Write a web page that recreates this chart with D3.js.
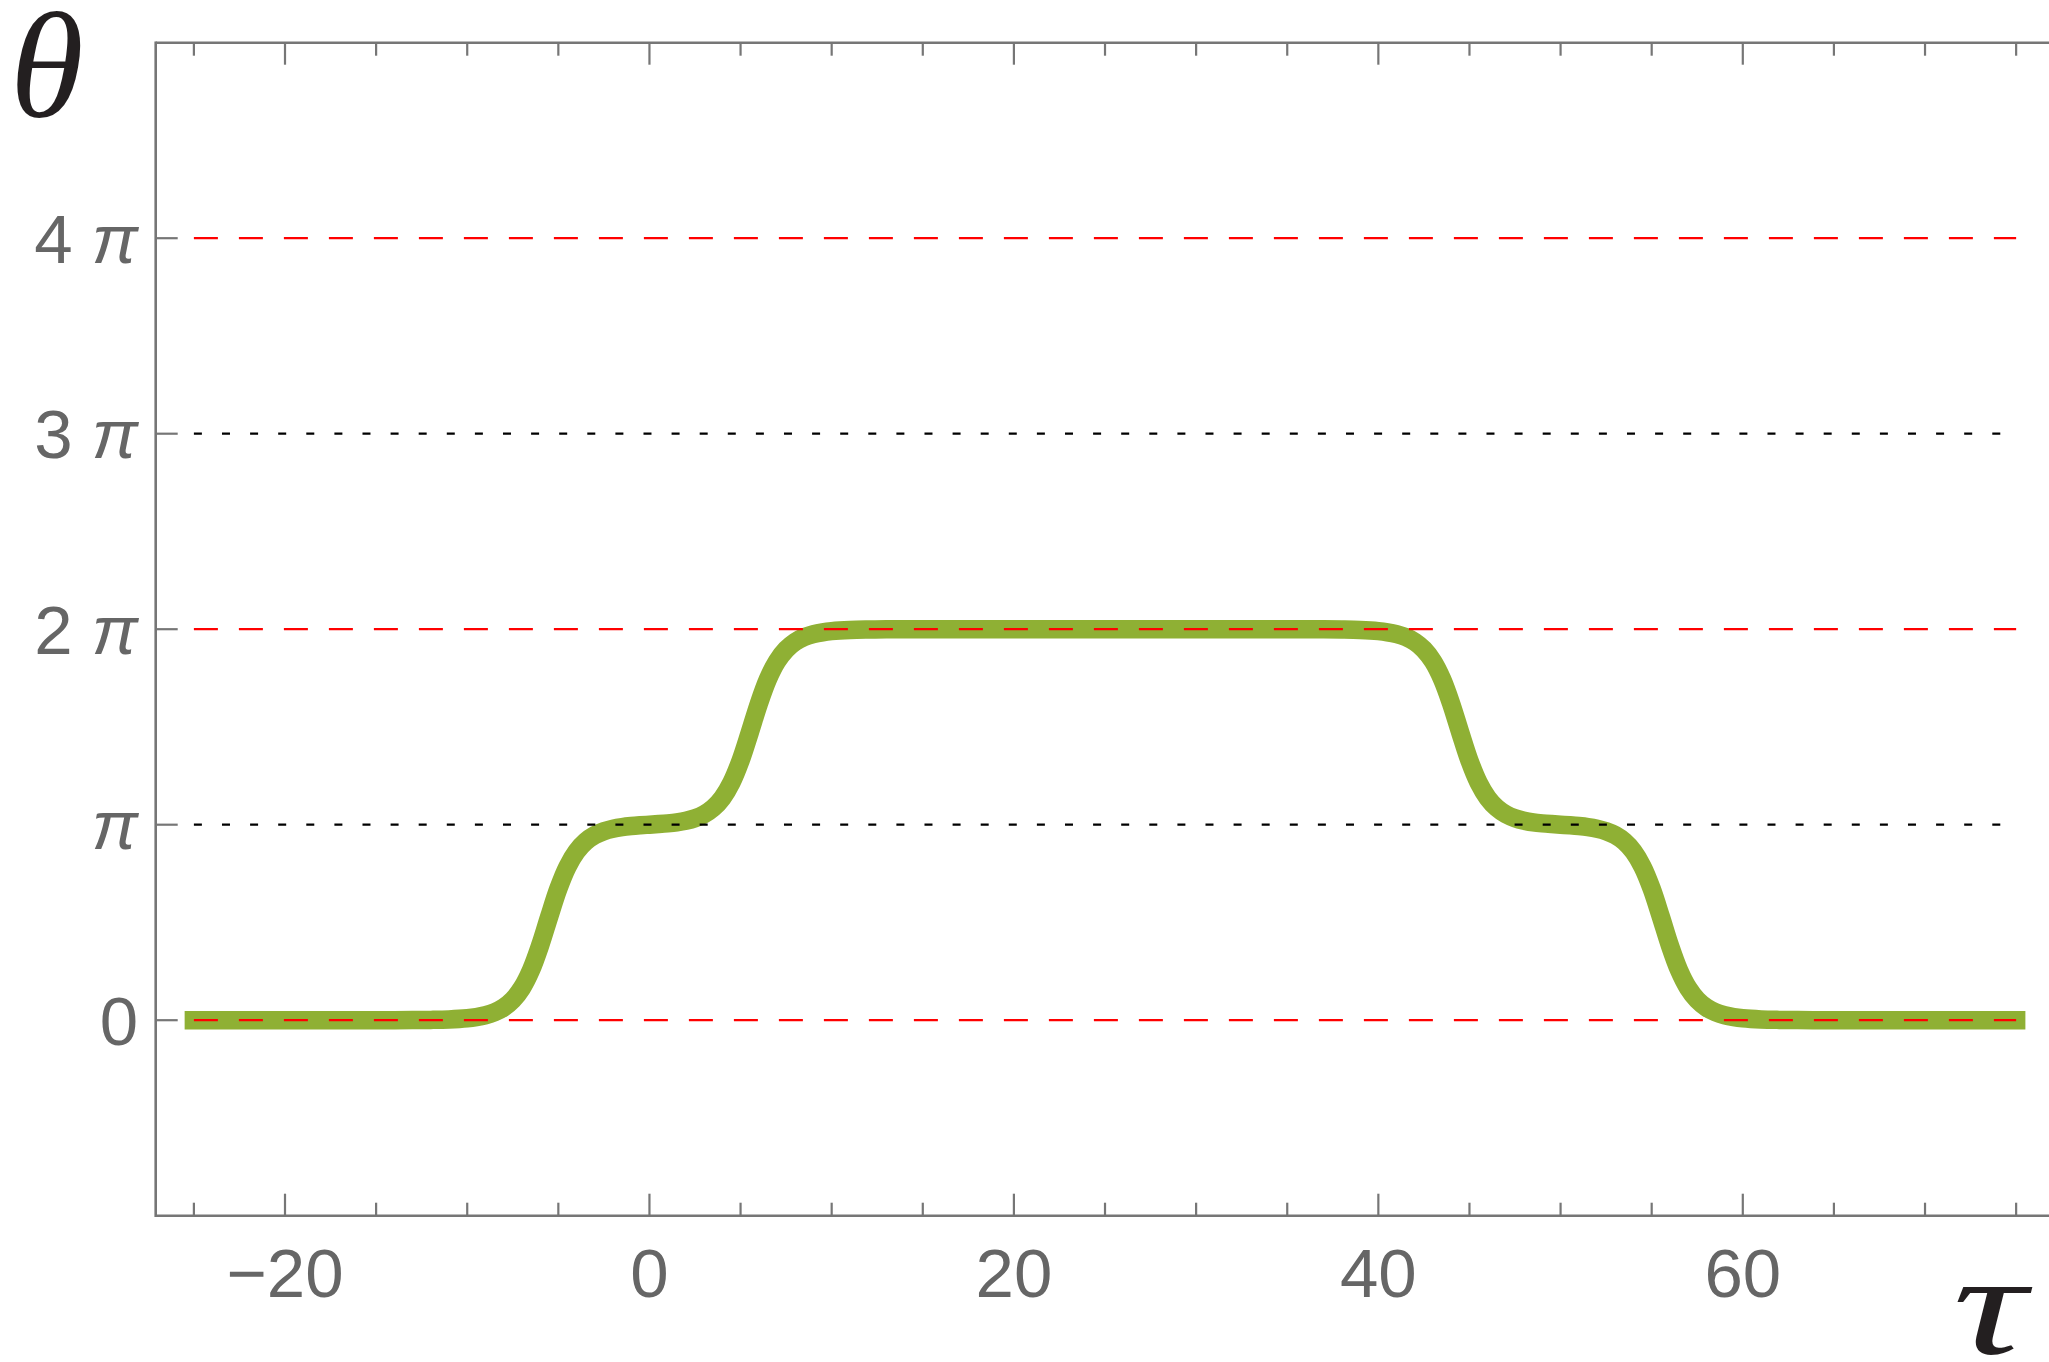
<!DOCTYPE html>
<html>
<head>
<meta charset="utf-8">
<script src="https://cdn.jsdelivr.net/npm/d3@7/dist/d3.min.js"></script>
<style>
  html, body { margin: 0; padding: 0; background: #fff; }
  svg { display: block; }
</style>
</head>
<body>
<svg id="chart" width="2049" height="1362"></svg>
<script>
// Sampled phase profile θ(τ), θ given in multiples of π
const tau = [
  -25, -20, -15, -14, -13, -12, -11, -10,
  -9.5, -9, -8.5, -8, -7.5, -7, -6.5, -6, -5.5, -5, -4.5, -4, -3.5, -3, -2.5, -2, -1.5, -1, -0.5,
  0, 0.5, 1, 1.5, 2, 2.5, 3, 3.5, 4, 4.5, 5, 5.5, 6, 6.5, 7, 7.5, 8, 8.5, 9, 9.5,
  10, 11, 12, 13, 14, 15, 20, 25, 30, 35, 36, 37, 38, 39,
  40, 40.5, 41, 41.5, 42, 42.5, 43, 43.5, 44, 44.5, 45, 45.5, 46, 46.5, 47, 47.5, 48, 48.5, 49, 49.5,
  50, 50.5, 51, 51.5, 52, 52.5, 53, 53.5, 54, 54.5, 55, 55.5, 56, 56.5, 57, 57.5, 58, 58.5, 59, 59.5,
  60, 61, 62, 63, 64, 65, 70, 75
];
const thetaOverPi = [
  0, 0, 0, 0.0002, 0.0006, 0.0015, 0.0038, 0.0097,
  0.0157, 0.0252, 0.0404, 0.0649, 0.1038, 0.1646, 0.2561, 0.382, 0.53, 0.6723, 0.7847, 0.863, 0.914, 0.9465, 0.9668, 0.9796, 0.9878, 0.9931, 0.9969,
  1, 1.0031, 1.0069, 1.0122, 1.0204, 1.0332, 1.0535, 1.086, 1.137, 1.2153, 1.3277, 1.47, 1.618, 1.7439, 1.8354, 1.8962, 1.9351, 1.9596, 1.9748, 1.9843,
  1.9903, 1.9962, 1.9985, 1.9994, 1.9998, 2, 2, 2, 2, 2, 1.9998, 1.9994, 1.9985, 1.9962,
  1.9903, 1.9843, 1.9748, 1.9596, 1.9351, 1.8962, 1.8354, 1.7439, 1.618, 1.47, 1.3277, 1.2153, 1.137, 1.086, 1.0535, 1.0332, 1.0204, 1.0122, 1.0069, 1.0031,
  1, 0.9969, 0.9931, 0.9878, 0.9796, 0.9668, 0.9465, 0.914, 0.863, 0.7847, 0.6723, 0.53, 0.382, 0.2561, 0.1646, 0.1038, 0.0649, 0.0404, 0.0252, 0.0157,
  0.0097, 0.0038, 0.0015, 0.0006, 0.0002, 0, 0, 0
];

// Reference levels (multiples of π)
const dashedLevels = [0, 2, 4];
const dottedLevels = [1, 3];
const levelSpan = [-25, 75];

// Axis ticks
const xMajorTicks = [-20, 0, 20, 40, 60];
const xMajorLabels = ["\u221220", "0", "20", "40", "60"];
const xMinorTicks = [-25, -15, -10, -5, 5, 10, 15, 25, 30, 35, 45, 50, 55, 65, 70, 75];
const yTicks = [0, 1, 2, 3, 4];
const yTickLabels = [["0", ""], ["", "\u03C0"], ["2 ", "\u03C0"], ["3 ", "\u03C0"], ["4 ", "\u03C0"]];

const frameLeft = 155.7, frameTop = 42.7, frameBottom = 1215.7;
const xMax = 80;

const svg = d3.select("#chart");

const x = d3.scaleLinear().domain([-20, 60]).range([285, 1742.8]);
const y = d3.scaleLinear().domain([-1, 5]).range([frameBottom, frameTop]);

const axisColor = "#767676";
const labelColor = "#666666";

// phase curve
const points = tau.map((t, i) => [t, thetaOverPi[i]]);
const line = d3.line()
  .x(d => x(d[0]))
  .y(d => y(d[1]))
  .curve(d3.curveCatmullRom.alpha(0.5));

svg.append("path")
  .datum(points)
  .attr("d", line)
  .attr("fill", "none")
  .attr("stroke", "#8fb034")
  .attr("stroke-width", 18.5)
  .attr("stroke-linecap", "square")
  .attr("stroke-linejoin", "round");

// reference levels drawn above the curve
svg.selectAll(".lvl-dash").data(dashedLevels).enter().append("line")
  .attr("x1", x(levelSpan[0])).attr("x2", x(levelSpan[1]))
  .attr("y1", d => y(d)).attr("y2", d => y(d))
  .attr("stroke", "#ff0000").attr("stroke-width", 2.2)
  .attr("stroke-dasharray", "24,21");

svg.selectAll(".lvl-dot").data(dottedLevels).enter().append("line")
  .attr("x1", x(levelSpan[0])).attr("x2", x(levelSpan[1]))
  .attr("y1", d => y(d)).attr("y2", d => y(d))
  .attr("stroke", "#000000").attr("stroke-width", 2.3)
  .attr("stroke-dasharray", "8,20.1");

// frame (right edge lies beyond the canvas)
const frame = svg.append("g").attr("stroke", axisColor).attr("fill", "none").attr("stroke-width", 2.6);
frame.append("line").attr("x1", frameLeft).attr("x2", frameLeft).attr("y1", frameTop - 1.3).attr("y2", frameBottom + 1.3);
frame.append("line").attr("x1", frameLeft).attr("x2", x(xMax)).attr("y1", frameTop).attr("y2", frameTop);
frame.append("line").attr("x1", frameLeft).attr("x2", x(xMax)).attr("y1", frameBottom).attr("y2", frameBottom);

// ticks along top and bottom edges, pointing inward
const ticks = svg.append("g").attr("stroke", axisColor).attr("stroke-width", 2.2);
function hTicks(values, len) {
  values.forEach(v => {
    ticks.append("line").attr("x1", x(v)).attr("x2", x(v)).attr("y1", frameBottom).attr("y2", frameBottom - len);
    ticks.append("line").attr("x1", x(v)).attr("x2", x(v)).attr("y1", frameTop).attr("y2", frameTop + len);
  });
}
hTicks(xMajorTicks, 22);
hTicks(xMinorTicks, 13);
yTicks.forEach(v => {
  ticks.append("line").attr("x1", frameLeft).attr("x2", frameLeft + 22).attr("y1", y(v)).attr("y2", y(v));
});

// tick labels
const fontSans = "'Liberation Sans', Arial, sans-serif";
svg.selectAll(".xlab").data(xMajorTicks).enter().append("text")
  .attr("x", d => x(d)).attr("y", 1297)
  .attr("text-anchor", "middle")
  .attr("font-family", fontSans).attr("font-size", 69)
  .attr("fill", labelColor)
  .text((d, i) => xMajorLabels[i]);

const yl = svg.selectAll(".ylab").data(yTicks).enter().append("text")
  .attr("x", 138).attr("y", d => y(d) + 24.5)
  .attr("text-anchor", "end")
  .attr("font-family", fontSans).attr("font-size", 69)
  .attr("fill", labelColor);
yl.append("tspan").text((d, i) => yTickLabels[i][0]);
yl.append("tspan").attr("font-style", "italic").text((d, i) => yTickLabels[i][1]);

// axis titles
const fontSerif = "'Liberation Serif', 'Times New Roman', serif";
svg.append("text")
  .attr("x", 10).attr("y", 117)
  .attr("font-family", fontSerif).attr("font-style", "italic")
  .attr("font-size", 150).attr("fill", "#231f20")
  .text("\u03B8");
svg.append("g")
  .attr("transform", "translate(1953,1354) scale(1.42,1)")
  .append("text")
  .attr("x", 0).attr("y", 0)
  .attr("font-family", fontSerif).attr("font-style", "italic")
  .attr("font-size", 144).attr("fill", "#231f20")
  .text("\u03C4");
</script>
</body>
</html>
